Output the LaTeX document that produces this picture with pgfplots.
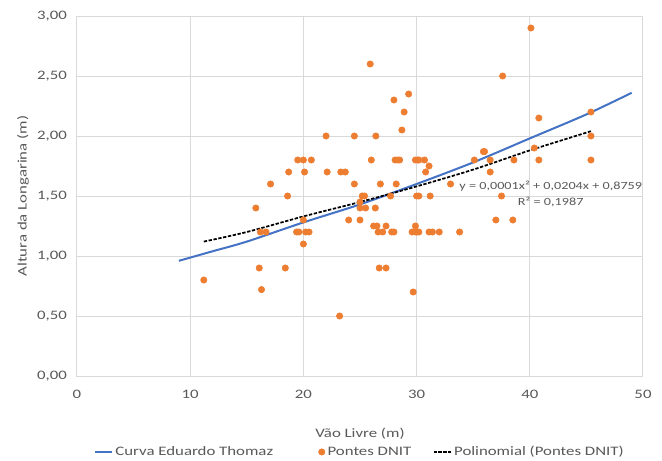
\documentclass[border=0pt]{standalone}
\usepackage{pgfplots}
\pgfplotsset{compat=1.18}
\usepackage{fontspec}
\setmainfont{Carlito}[FakeStretch=1.3]
\definecolor{xlorange}{HTML}{ED7D31}
\definecolor{xlblue}{HTML}{4472C4}
\definecolor{xlgrid}{HTML}{D9D9D9}
\definecolor{xltext}{HTML}{595959}
\begin{document}
\begin{tikzpicture}
\begin{axis}[
  at={(0,0)}, anchor=origin,
  scale only axis, width=424.5pt, height=270pt,
  xmin=0, xmax=50, ymin=0, ymax=3,
  xtick={0,10,...,50}, ytick={0,0.5,...,3},
  grid=major, major grid style={xlgrid, line width=0.75pt},
  axis line style={xlgrid, line width=0.75pt},
  tick style={draw=none},
  font=\fontsize{9.7}{11}\selectfont,
  ticklabel style={text=xltext},
  /pgf/number format/assume math mode=true,
  yticklabel style={xshift=-4pt, /pgf/number format/.cd, fixed, fixed zerofill, precision=2, use comma},
  xticklabel style={yshift=-7pt, /pgf/number format/.cd, fixed, precision=0},
  xlabel={Vão Livre (m)}, ylabel={Altura da Longarina (m)},
  label style={text=xltext, font=\fontsize{9.7}{11}\selectfont},
  xlabel style={at={(axis description cs:0.5,-0.159)}, anchor=center},
  ylabel style={at={(axis description cs:-0.0954,0.5)}, anchor=center},
  legend style={at={(0.5,-0.211)}, anchor=center, draw=none, legend columns=3,
    font=\fontsize{9.7}{11}\selectfont, text=xltext,
    /tikz/every even column/.append style={column sep=14pt}},
  legend cell align=left,
  legend image code/.code={\draw[mark repeat=2, mark phase=2, #1] plot coordinates {(0cm,0cm) (0.225cm,0cm) (0.45cm,0cm)};},
]
\addplot[xlblue, line width=1.5pt, smooth] coordinates {
(9,0.96) (12,1.04) (15,1.12) (20,1.28) (25,1.43) (30,1.60) (35,1.78) (40,1.98) (45,2.18) (49,2.36)};
\addlegendentry{Curva Eduardo Thomaz\rule{18pt}{0pt}}
\addplot[only marks, mark=*, mark size=2.4pt, xlorange, mark options={draw=xlorange, fill=xlorange}] table {
x y
40.1 2.90
25.9 2.60
37.6 2.50
29.3 2.35
28.0 2.30
28.9 2.20
45.4 2.20
40.8 2.15
28.7 2.05
22.0 2.00
24.5 2.00
26.4 2.00
45.4 2.00
40.4 1.90
35.9 1.87
36.0 1.87
19.5 1.80
20.0 1.80
20.7 1.80
26.0 1.80
28.1 1.80
28.3 1.80
28.5 1.80
29.9 1.80
30.1 1.80
30.2 1.80
30.7 1.80
35.1 1.80
36.5 1.80
38.6 1.80
40.8 1.80
45.4 1.80
31.1 1.75
18.7 1.70
20.1 1.70
22.1 1.70
23.3 1.70
23.7 1.70
30.8 1.70
36.5 1.70
17.1 1.60
24.5 1.60
26.8 1.60
28.2 1.60
33.0 1.60
18.6 1.50
25.2 1.50
25.4 1.50
27.7 1.50
30.0 1.50
30.2 1.50
31.2 1.50
37.5 1.50
25.0 1.45
15.8 1.40
25.0 1.40
25.5 1.40
26.35 1.40
20.0 1.30
24.0 1.30
25.0 1.30
37.0 1.30
38.5 1.30
26.2 1.25
26.5 1.25
27.3 1.25
29.9 1.25
16.2 1.20
16.7 1.20
19.4 1.20
19.6 1.20
20.2 1.20
20.5 1.20
26.6 1.20
27.0 1.20
27.8 1.20
28.0 1.20
29.6 1.20
29.9 1.20
30.05 1.20
30.2 1.20
31.1 1.20
31.4 1.20
32.0 1.20
33.8 1.20
20.0 1.10
16.1 0.90
18.4 0.90
26.7 0.90
27.3 0.90
11.2 0.80
16.3 0.72
29.7 0.70
23.2 0.50
};
\addlegendentry{Pontes DNIT}
\addplot[black, line width=1.3pt, dash pattern=on 2.5pt off 1.2pt, smooth] coordinates {
(11.2,1.12) (15,1.20) (20,1.33) (25,1.45) (30,1.58) (35,1.72) (40,1.88) (45.4,2.04)};
\addlegendentry{Polinomial (Pontes DNIT)}
\node[align=center, text=xltext, font=\fontsize{8.2}{12}\selectfont] at (axis cs:41.85,1.52) {y = 0,0001x² + 0,0204x + 0,8759\\R² = 0,1987};
\end{axis}
\pgfresetboundingbox
\path[use as bounding box] (-57.75pt,-63.75pt) rectangle (438.75pt,282pt);
\end{tikzpicture}
\end{document}
